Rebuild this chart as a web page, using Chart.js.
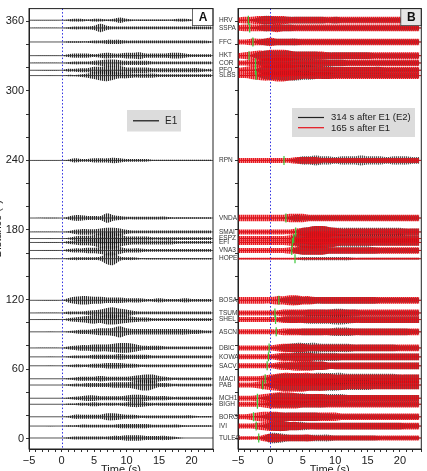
<!DOCTYPE html>
<html>
<head>
<meta charset="utf-8">
<script src="https://cdn.jsdelivr.net/npm/chart.js@4/dist/chart.umd.min.js"></script>
<style>
  html, body { margin: 0; padding: 0; background: #fff; overflow: hidden; }
  #wrap { position: relative; width: 427px; height: 471px; }
  canvas { position: absolute; top: 0; }
  #cA { left: 0; }
  #cB { left: 215px; }
</style>
</head>
<body>
<div id="wrap">
  <canvas id="cA" width="215" height="471"></canvas>
  <canvas id="cB" width="212" height="471"></canvas>
</div>
<script>
// stations, top to bottom, and their epicentral distance (deg)
const stations = ['HRV', 'SSPA', 'FFC', 'HKT', 'COR', 'PFO', 'SLBS', 'RPN', 'VNDA', 'SMAI', 'ESPZ', 'EFI', 'VNA3', 'HOPE',
  'BOSA', 'TSUM', 'SHEL', 'ASCN', 'DBIC', 'KOWA', 'SACV', 'MACI', 'PAB', 'MCH1', 'BIGH', 'BORG', 'IVI', 'TULEG'];
const distances = [361, 354.3, 342.2, 330.4, 324.1, 317.8, 313.2, 240, 190.3, 178.3, 172.6, 169.2, 162.3, 155.2,
  119.3, 108.4, 102.7, 92.1, 78.2, 70.5, 62.8, 51.6, 46.2, 34.8, 29.6, 18.8, 10.8, 0.5];

// sample times (s) of the trace envelopes
const timeA = [-5, 0, 1, 2, 3, 4, 5, 6, 7, 8, 9, 10, 11, 12, 13, 14, 15, 16, 17, 18, 19, 20, 21, 22, 23];
const timeB = [-5, -4, -3, -2, -1, 0, 1, 2, 3, 4, 5, 6, 7, 8, 9, 10, 11, 12, 13, 14, 15, 16, 17, 18, 19, 20, 21, 22, 23];

// envelope amplitude, one digit per sample (0 = flat)
// panel A: E1
const envA = [
  '0012212212421111111221111', '0012223632222222222222222', '0011112233322222222222221', '0023332343344533334432222',
  '0012223455433332222222222', '0022335566644443333333322', '0011235786443333222222222', '0013223334322221111111111',
  '0024433374322222221111111', '0013444566532222222222222', '0013445899633332222222222', '0023445899643333333222222',
  '0023344577533322222222222', '0012222389322111111111111', '0035665544433322322232222', '0022234578653222222222222',
  '0023456577654332222222222', '0012334556854444444443322', '0023445556776433322222222', '0012223333433332222222222',
  '0012223344433222222222222', '0012333433334566432222222', '0012233334445786332222222', '0012344333345543332222222',
  '0011223222234432222222222', '0013333355433222222222111', '0011222222333332222211111', '0012222223344433332100000'
];
// panel B, black: 314 s after E1 (E2)
const envE2 = [
  '00135544444444343333333333333', '00124444433333333333333333333', '00024444443333333333333333333', '00146666655554444444433333333',
  '00025666655544444333333333333', '00025677766655544444444333333', '00014556665544433333333333333', '00000000135565545556555455544',
  '00000001243333333333333333333', '00000000025677655555555555444', '00000000156787665555555556444', '00000000146776655555544444444',
  '00000000145555444444443333333', '00000000012222222211111111111', '00000013454444444444443333333', '00000012333444455443333333333',
  '00000013444555566544444444444', '00000001334444455544444444433', '00000124566665555544444443333', '00000124455555554444444444444',
  '00000123445555444444444444444', '00001356666677777666666665555', '00001357777777776666655555555', '00002466666555555444444444444',
  '00001344444444333333333333333', '00012555555554433333333333333', '00002566555444444444444444333', '00002665444444433333332222222'
];
// panel B, red: 165 s after E1
const envE1b = [
  '34455555444444444444444444444', '34444454444444444444444444444', '33444544444444444444444444444', '34566777655555444444444444444',
  '33456677654444444444444444444', '34567888765555444444444444444', '33456677654444444444444444444', '33333333344443333333333333333',
  '44444444555444444444444444444', '33333333345677654444444444444', '33333333456788765444444444444', '33333333456777654444444444444',
  '33333333445555444444444444444', '11111111111111111111111111111', '44444455665544444444444444444', '33333334444444444444444444444',
  '33333334444444444444444444444', '33333334444444444444444444444', '33333345555444444444444444444', '33333345555544444444444444444',
  '33333345566655444444444444444', '33334567777766655555555555555', '33345678888777666555555555555', '33345677765555444444444444444',
  '33334555554444444444444444444', '33456665555555554444444444444', '33345666554444444444444444444', '22224554444433333333333333333'
];
// P picks (s) in panel B
const picks = [-3.4, -3.2, -2.7, -3.3, -2.3, -2.3, -2.2, 2.1, 2.4, 3.9, 3.6, 3.4, 3.3, 3.8,
  1.3, 0.7, 0.8, 0.9, -0.2, -0.3, -0.5, -0.8, -1.2, -2.0, -2.0, -2.6, -2.2, -1.8];

const xLabels = [-5, 0, 5, 10, 15, 20];
const yLabels = [0, 60, 120, 180, 240, 300, 360];
const yMinor = [0, 20, 40, 60, 80, 100, 120, 140, 160, 180, 200, 220, 240, 260, 280, 300, 320, 340, 360];
const originTime = 0;

const AMP_A = 0.6;          // distance units per envelope digit, panel A
const AMP_B = 0.72;         // panel B
const FONT = "'Liberation Sans', 'DejaVu Sans', sans-serif";

// vertical hatching so the envelopes read like dense wiggles
function stripes(c0, c1) {
  const c = document.createElement('canvas');
  c.width = 2; c.height = 4;
  const g = c.getContext('2d');
  g.fillStyle = c0; g.fillRect(0, 0, 1, 4);
  g.fillStyle = c1; g.fillRect(1, 0, 1, 4);
  return g.createPattern(c, 'repeat');
}
const hatchA = stripes('rgba(20,20,20,0.9)', 'rgba(60,60,60,0.22)');
// black and red columns are interleaved so both show where they overlap
const hatchK = stripes('rgba(40,40,40,0.15)', 'rgba(25,25,25,0.75)');
const hatchR = stripes('rgba(232,16,24,0.97)', 'rgba(232,16,24,0.55)');

function digits(s, n) {
  const a = s.split('').map(Number);
  while (a.length < n) a.push(a[a.length - 1]);
  return a.slice(0, n);
}

function trace(times, env, base, amp, stroke, hatch, order) {
  const a = digits(env, times.length);
  const mid = [{ x: -5, y: base }, { x: 23.3, y: base }];
  const up = times.map((t, k) => ({ x: t, y: base + a[k] * amp }));
  const lo = times.map((t, k) => ({ x: t, y: base - a[k] * amp }));
  return [
    { data: mid, borderColor: stroke, borderWidth: 0.8, pointRadius: 0, fill: false, order: order },
    { data: up, borderWidth: 0, pointRadius: 0, fill: false, order: order, tension: 0.35 },
    { data: lo, borderWidth: 0, pointRadius: 0, fill: '-1', backgroundColor: hatch, order: order, tension: 0.35 }
  ];
}

const dsA = [];
stations.forEach((s, i) => {
  dsA.push(...trace(timeA, envA[i], distances[i], AMP_A, '#2a2a2a', hatchA, 1));
});

const dsB = [];
stations.forEach((s, i) => {
  dsB.push(...trace(timeB, envE2[i], distances[i], AMP_B, '#262626', hatchK, 2));
  dsB.push(...trace(timeB, envE1b[i], distances[i], AMP_B, '#e5121b', hatchR, 1));
});
dsB.push({
  type: 'scatter',
  data: picks.map((t, i) => ({ x: t, y: distances[i] })),
  pointStyle: 'line', rotation: 90, pointRadius: 4.5, borderColor: '#3cc83a', borderWidth: 1.2, order: -2
});

function fmt(v) { return v < 0 ? '\u2212' + Math.abs(v) : String(v); }

function scales(yWidth, showY) {
  return {
    x: {
      type: 'linear', min: -5, max: 23.3,
      ticks: { stepSize: 1, autoSkip: false, maxRotation: 0, padding: 2, color: '#222',
        font: { family: FONT, size: 11 }, callback: v => xLabels.includes(v) ? fmt(v) : '' },
      grid: { drawOnChartArea: false, tickLength: 3, color: '#333' },
      border: { color: '#222', width: 1 },
      afterFit: s => { s.height = 22; }
    },
    y: {
      type: 'linear', min: -9, max: 371,
      afterBuildTicks: s => { s.ticks = yMinor.map(v => ({ value: v })); },
      ticks: { autoSkip: false, padding: 2, color: '#222',
        font: { family: FONT, size: 11 }, callback: v => (showY && yLabels.includes(v)) ? String(v) : '' },
      grid: { drawOnChartArea: false, tickLength: 3, color: '#333' },
      border: { color: '#222', width: 1 },
      afterFit: s => { s.width = yWidth; }
    }
  };
}

// frame, t=0 line, panel letter, axis title
function decor(letter, boxFill, extra) {
  return {
    id: 'decor' + letter,
    afterDatasetsDraw(chart) {
      const ctx = chart.ctx, a = chart.chartArea;
      const x0 = Math.round(chart.scales.x.getPixelForValue(originTime)) + 0.5;
      ctx.save();
      ctx.strokeStyle = '#3030e0';
      ctx.lineWidth = 1;
      ctx.setLineDash([1.5, 2]);
      ctx.beginPath(); ctx.moveTo(x0, a.top); ctx.lineTo(x0, a.bottom); ctx.stroke();
      ctx.setLineDash([]);
      ctx.restore();
    },
    afterDraw(chart) {
      const ctx = chart.ctx, a = chart.chartArea;
      ctx.save();
      // panel letter box
      ctx.fillStyle = boxFill;
      ctx.fillRect(a.right - 20.5, a.top, 20.5, 17);
      ctx.strokeStyle = '#444'; ctx.lineWidth = 0.8;
      ctx.strokeRect(a.right - 20.5, a.top, 20.5, 17);
      ctx.fillStyle = '#111';
      ctx.font = "bold 12px " + FONT;
      ctx.textAlign = 'center'; ctx.textBaseline = 'middle';
      ctx.fillText(letter, a.right - 10, a.top + 9);
      // frame
      ctx.strokeStyle = '#222'; ctx.lineWidth = 1;
      ctx.strokeRect(a.left, a.top, a.right - a.left, a.bottom - a.top);
      // x title
      ctx.fillStyle = '#222';
      ctx.font = "11px " + FONT;
      ctx.textAlign = 'center'; ctx.textBaseline = 'top';
      ctx.fillText('Time (s)', (a.left + a.right) / 2, 464);
      extra(ctx, chart);
      ctx.restore();
    }
  };
}

new Chart(document.getElementById('cA'), {
  type: 'line',
  data: { datasets: dsA },
  options: {
    responsive: false, animation: false, events: [],
    layout: { padding: { top: 5, right: 2, left: 0, bottom: 0 } },
    plugins: { legend: { display: false }, tooltip: { enabled: false } },
    scales: scales(29, true)
  },
  plugins: [decor('A', '#ffffff', (ctx, chart) => {
    // legend
    ctx.fillStyle = '#dcdcdc';
    ctx.fillRect(127, 110, 54, 21.5);
    ctx.strokeStyle = '#111'; ctx.lineWidth = 1.2;
    ctx.beginPath(); ctx.moveTo(133, 120.8); ctx.lineTo(159, 120.8); ctx.stroke();
    ctx.fillStyle = '#222'; ctx.font = "10px " + FONT;
    ctx.textAlign = 'left'; ctx.textBaseline = 'middle';
    ctx.fillText('E1', 165, 121);
    // y title (cut at the page edge)
    ctx.translate(-2, (chart.chartArea.top + chart.chartArea.bottom) / 2);
    ctx.rotate(-Math.PI / 2);
    ctx.textAlign = 'center'; ctx.textBaseline = 'middle';
    ctx.font = "11px " + FONT;
    ctx.fillText('Distance (\u00b0)', 0, 0);
  })]
});

new Chart(document.getElementById('cB'), {
  type: 'line',
  data: { datasets: dsB },
  options: {
    responsive: false, animation: false, events: [],
    layout: { padding: { top: 5, right: 3, left: 0, bottom: 0 } },
    plugins: { legend: { display: false }, tooltip: { enabled: false } },
    scales: scales(23, false)
  },
  plugins: [decor('B', '#e6e6e6', (ctx, chart) => {
    // station names
    const y = chart.scales.y;
    ctx.fillStyle = '#333'; ctx.font = "6.5px " + FONT;
    ctx.textAlign = 'left'; ctx.textBaseline = 'middle';
    stations.forEach((s, i) => ctx.fillText(s, 4, y.getPixelForValue(distances[i])));
    // legend
    ctx.fillStyle = '#dcdcdc';
    ctx.fillRect(77, 108, 123, 29);
    ctx.lineWidth = 1.2;
    ctx.strokeStyle = '#222';
    ctx.beginPath(); ctx.moveTo(83, 117.5); ctx.lineTo(109, 117.5); ctx.stroke();
    ctx.strokeStyle = '#e5121b';
    ctx.beginPath(); ctx.moveTo(83, 127.7); ctx.lineTo(109, 127.7); ctx.stroke();
    ctx.fillStyle = '#222'; ctx.font = "9.5px " + FONT;
    ctx.fillText('314 s after E1 (E2)', 116, 117.5);
    ctx.fillText('165 s after E1', 116, 128);
  })]
});
</script>
</body>
</html>
